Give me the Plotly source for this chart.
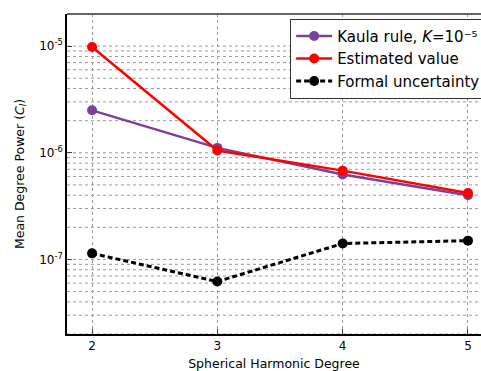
import plotly.graph_objects as go

degrees = [2, 3, 4, 5]
kaula = [2.5e-6, 1.111e-6, 6.25e-7, 4.0e-7]
estimated = [9.8e-6, 1.05e-6, 6.8e-7, 4.2e-7]
formal = [1.14e-7, 6.2e-8, 1.41e-7, 1.5e-7]
x_ticks = [2, 3, 4, 5]
y_major = [1e-7, 1e-6, 1e-5]
y_major_text = ["10<sup>-7</sup>", "10<sup>-6</sup>", "10<sup>-5</sup>"]

grid_vals = []
for e in (-8, -7, -6, -5):
    for m in range(1, 10):
        v = m * 10.0 ** e
        if 2e-8 <= v <= 2e-5:
            grid_vals.append(v)

fig = go.Figure()
fig.add_trace(go.Scatter(x=degrees, y=kaula, mode="lines+markers",
                         name="Kaula rule, <i>K</i>=10⁻⁵",
                         line=dict(color="#7b3f9e", width=2.5),
                         marker=dict(size=10, color="#7b3f9e")))
fig.add_trace(go.Scatter(x=degrees, y=estimated, mode="lines+markers",
                         name="Estimated value",
                         line=dict(color="#ff0000", width=2.5),
                         marker=dict(size=10, color="#ff0000")))
fig.add_trace(go.Scatter(x=degrees, y=formal, mode="lines+markers",
                         name="Formal uncertainty",
                         line=dict(color="black", width=3, dash="5px,3px"),
                         marker=dict(size=10, color="black")))

font = "DejaVu Sans, sans-serif"
fig.update_layout(
    width=481, height=371,
    margin=dict(l=67, r=0, t=14, b=37, autoexpand=False),
    paper_bgcolor="white", plot_bgcolor="white",
    font=dict(family=font, size=12, color="black"),
    showlegend=True,
    legend=dict(x=0.539, y=0.985, xanchor="left", yanchor="top",
                bgcolor="white", bordercolor="#333333", borderwidth=1,
                font=dict(size=15), tracegroupgap=0, itemwidth=36),
    xaxis=dict(range=[1.8, 5.104], tickvals=x_ticks, ticks="inside",
               ticklen=5, showline=True, linecolor="black", linewidth=1.5,
               mirror=False, showgrid=True, gridcolor="#999999",
               griddash="dot", gridwidth=1, zeroline=False, automargin=False,
               tickfont=dict(size=12),
               title=dict(text="Spherical Harmonic Degree", font=dict(size=12.5), standoff=16)),
    yaxis=dict(type="log", range=[-7.699, -4.699], tickvals=y_major,
               ticktext=y_major_text, ticks="inside", ticklen=5,
               showline=True, linecolor="black", linewidth=1.5, automargin=False,
               showgrid=False, zeroline=False, tickfont=dict(size=12),
               title=dict(text="Mean Degree Power (<i>C<sub>l</sub></i>)", font=dict(size=12.5), standoff=12)),
)
for v in grid_vals:
    fig.add_shape(type="line", xref="paper", x0=0, x1=1, yref="y", y0=v, y1=v,
                  line=dict(color="#999999", width=1, dash="dot"), layer="below")
fig.add_shape(type="line", xref="paper", x0=0, x1=1, yref="paper", y0=1, y1=1,
              line=dict(color="#666666", width=2))

fig.write_html("out.html", config={"displayModeBar": False},
               post_script="document.body.style.margin='0';document.body.style.overflow='hidden';")
